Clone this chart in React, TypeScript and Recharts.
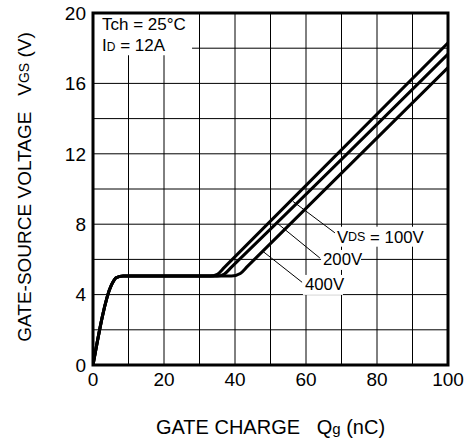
import React from 'react';
import { LineChart, Line, XAxis, YAxis, CartesianGrid, ReferenceArea, ReferenceLine, ReferenceDot, Label } from 'recharts';

const FONT = '"Liberation Sans", Arial, sans-serif';

const qTicks = [0, 10, 20, 30, 40, 50, 60, 70, 80, 90, 100];
const vTicks = [0, 2, 4, 6, 8, 10, 12, 14, 16, 18, 20];

// gate charge Qg (nC) vs VGS (V) for each VDS
const q100 = [0, 5.2, 6.6, 8.5, 33, 35, 37, 100];
const vgs100 = [0, 4.55, 4.97, 5.05, 5.05, 5.15, 5.55, 18.3];
const q200 = [0, 5.2, 6.6, 8.5, 35, 37, 39, 100];
const vgs200 = [0, 4.55, 4.97, 5.05, 5.05, 5.17, 5.56, 17.66];
const q400 = [0, 5.2, 6.6, 8.5, 39, 41.5, 43.5, 100];
const vgs400 = [0, 4.55, 4.97, 5.05, 5.05, 5.2, 5.6, 16.9];

// leader lines (data units) and label anchors for the VDS callouts
const leaderFrom = [{ x: 56.3, y: 9.3 }, { x: 51.8, y: 8.07 }, { x: 47.9, y: 6.45 }];
const leaderTo = [{ x: 68.2, y: 7.5 }, { x: 63.9, y: 6.08 }, { x: 58.9, y: 4.7 }];
const labelAt = [{ x: 68.7, y: 7.29 }, { x: 64.8, y: 5.97 }, { x: 59.7, y: 4.55 }];
const labelText = ['100V', '200V', '400V'];
const labelWidth = [94, 40, 40];

const toPoints = (q: number[], v: number[]) => q.map((x, i) => ({ q: x, v: v[i] }));

const series = [toPoints(q100, vgs100), toPoints(q200, vgs200), toPoints(q400, vgs400)];

const fmtQ = (v: number) => (v % 20 === 0 ? String(v) : '');
const fmtV = (v: number) => (v % 4 === 0 ? String(v) : '');

const YTitle = (props: any) => {
  const vb = props.viewBox;
  const cx = vb.x + 24;
  const cy = vb.y + vb.height / 2 - 2;
  return (
    <text x={cx} y={cy} transform={`rotate(-90 ${cx} ${cy})`} textAnchor="middle" dominantBaseline="central"
      fontSize={19} fontFamily={FONT} fill="#000" style={{ whiteSpace: 'pre' }}>
      <tspan>GATE-SOURCE VOLTAGE   V</tspan>
      <tspan fontSize={14}>GS</tspan>
      <tspan> (V)</tspan>
    </text>
  );
};

const XTitle = (props: any) => {
  const vb = props.viewBox;
  return (
    <text x={vb.x + vb.width / 2} y={vb.y + 69} textAnchor="middle" fontSize={20} fontFamily={FONT} fill="#000"
      style={{ whiteSpace: 'pre' }}>
      <tspan>GATE CHARGE   Q</tspan>
      <tspan fontSize={15}>g</tspan>
      <tspan> (nC)</tspan>
    </text>
  );
};

const Conditions = (props: any) => {
  const vb = props.viewBox;
  return (
    <g fontFamily={FONT} fontSize={17} fill="#000">
      <text x={vb.x + 9} y={vb.y + 17}>Tch = 25°C</text>
      <text x={vb.x + 9} y={vb.y + 38}>
        <tspan>I</tspan>
        <tspan fontSize={12}>D</tspan>
        <tspan> = 12A</tspan>
      </text>
    </g>
  );
};

const callout = (i: number) => (p: any) => (
  <g>
    <rect x={p.cx - 2} y={p.cy - 10} width={labelWidth[i]} height={20} fill="#fff" />
    <text x={p.cx} y={p.cy} dominantBaseline="central" fontSize={16.8} fontFamily={FONT} fill="#000">
      {i === 0 ? (
        <>
          <tspan>V</tspan>
          <tspan fontSize={12.5}>DS</tspan>
          <tspan> = {labelText[i]}</tspan>
        </>
      ) : (
        labelText[i]
      )}
    </text>
  </g>
);

export default function App() {
  return (
    <div style={{ position: 'absolute', left: 0, top: 0, background: '#fff' }}>
      <LineChart width={465} height={441} margin={{ top: 13, right: 17, bottom: 0, left: 0 }} style={{ fontFamily: FONT }}>
        <CartesianGrid stroke="#000" strokeWidth={1} strokeDasharray="" />
        <XAxis type="number" dataKey="q" domain={[0, 100]} ticks={qTicks} interval={0} tickFormatter={fmtQ}
          tickLine={false} axisLine={false} tickSize={0} tickMargin={8} height={76}
          tick={{ fill: '#000', fontSize: 19, fontFamily: FONT }} allowDataOverflow>
          <Label content={XTitle} />
        </XAxis>
        <YAxis type="number" dataKey="v" domain={[0, 20]} ticks={vTicks} interval={0} tickFormatter={fmtV}
          tickLine={false} axisLine={false} tickSize={0} tickMargin={7} width={93}
          tick={{ fill: '#000', fontSize: 19, fontFamily: FONT }} allowDataOverflow>
          <Label content={YTitle} />
        </YAxis>
        <ReferenceArea x1={0} x2={27.9} y1={17.6} y2={20} fill="#fff" fillOpacity={1} stroke="none">
          <Label content={Conditions} />
        </ReferenceArea>
        {leaderFrom.map((f, i) => (
          <ReferenceLine key={'l' + i} segment={[f, leaderTo[i]]} stroke="#000" strokeWidth={1} />
        ))}
        {labelAt.map((a, i) => (
          <ReferenceDot key={'d' + i} x={a.x} y={a.y} r={1} shape={callout(i)} />
        ))}
        {series.map((d, i) => (
          <Line key={i} data={d} dataKey="v" type="monotone" stroke="#000" strokeWidth={3} dot={false}
            isAnimationActive={false} />
        ))}
        <ReferenceArea x1={0} x2={100} y1={0} y2={20} fill="none" stroke="#000" strokeWidth={3} />
      </LineChart>
    </div>
  );
}
